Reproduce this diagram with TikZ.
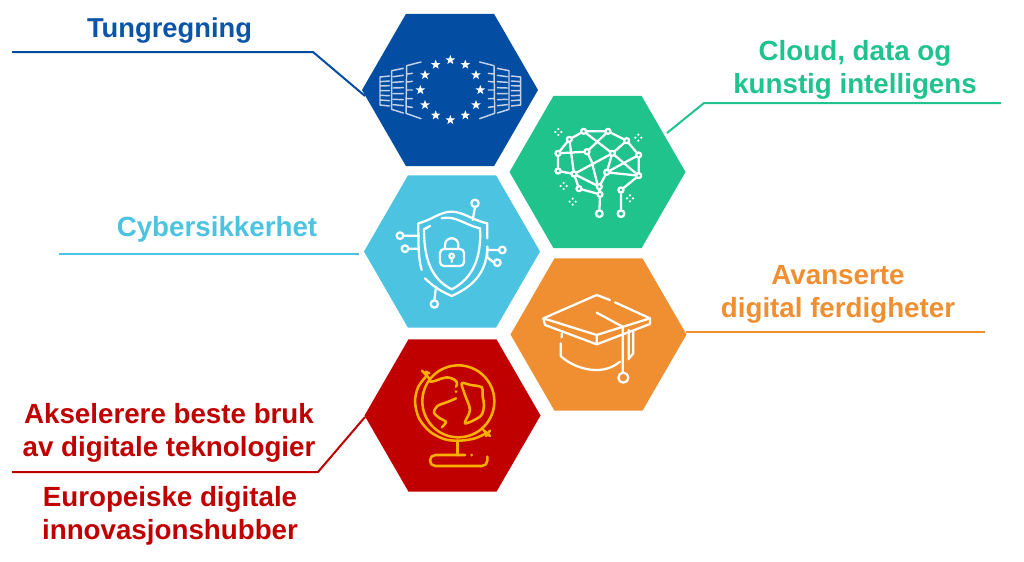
\documentclass[tikz,border=0pt]{standalone}
\usepackage{fontspec}
\setmainfont{Liberation Sans}
\usetikzlibrary{shapes.geometric}
\definecolor{cblue}{HTML}{034EA2}
\definecolor{cgreen}{HTML}{20C38B}
\definecolor{ccyan}{HTML}{4CC3E0}
\definecolor{corange}{HTML}{EF8F32}
\definecolor{cred}{HTML}{C00000}
\definecolor{cgold}{HTML}{FBB000}
\definecolor{cpale}{HTML}{C3D2E8}
\definecolor{tblue}{HTML}{0B55A8}
\tikzset{
 hexa/.style={regular polygon,regular polygon sides=6,minimum size=132pt,inner sep=0pt,fill=#1},
 link/.style={draw=#1,line width=1.5pt,line join=miter},
 lab/.style={font=\fontsize{20.8pt}{24.7pt}\selectfont\bfseries,text=#1,align=center,inner sep=0pt},
 icon/.style={white,line width=1.7pt,line cap=round,line join=round},
 zoomed/.style={x=.25pt,y=-.25pt}
}
\newcommand\eustar[2]{\fill[white] (#1,#2) +(0,-15) -- +(3.7,-5) -- +(14.3,-4.6) -- +(6,1.8) -- +(8.8,12.1) -- +(0,6) -- +(-8.8,12.1) -- +(-6,1.8) -- +(-14.3,-4.6) -- +(-3.7,-5) -- cycle;}
\newcommand\sparkle[2]{\fill[white] (#1,#2) +(0,-9) circle (3.6) +(9,0) circle (3.6) +(0,9) circle (3.6) +(-9,0) circle (3.6);}
\newcommand\parlwing{%
 \draw[cpale,line width=1.1pt,line cap=round,line join=round]
  (213,186) -- (170,197) -- (168,340) -- (213,356)
  (172,222) -- (187,220) (172,246) -- (187,244) (172,270) -- (187,270) (172,296) -- (187,296) (172,320) -- (187,322)
  (160,205) -- (125,212) -- (125,328) -- (160,339)
  (130,230) -- (160,226) (130,247) -- (160,245) (130,264) -- (160,263) (130,281) -- (160,281) (130,298) -- (160,299) (130,314) -- (160,317)
  (118,228) -- (90,231) -- (90,315) -- (118,318)
  (90,245) -- (118,243) (90,258) -- (118,257) (90,272) -- (118,272) (90,286) -- (118,287) (90,300) -- (118,302);
}
\begin{document}
\begin{tikzpicture}[x=.75pt,y=-.75pt]
\useasboundingbox (0,0) rectangle (1024,561);
\coordinate (b0) at (12,52); \coordinate (b1) at (313,52); \coordinate (b2) at (365,96);
\coordinate (g0) at (1001,103); \coordinate (g1) at (704,103); \coordinate (g2) at (667,133);
\coordinate (c0) at (59,254); \coordinate (c2) at (359,254);
\coordinate (o0) at (985,332); \coordinate (o2) at (686,332);
\coordinate (r0) at (12,472); \coordinate (r1) at (318,472); \coordinate (r2) at (365,417);
\draw[link=cblue] (b0) -- (b1) -- (b2);
\draw[link=cgreen] (g0) -- (g1) -- (g2);
\draw[link=ccyan] (c0) -- (c2);
\draw[link=corange] (o0) -- (o2);
\draw[link=cred] (r0) -- (r1) -- (r2);

\node[hexa=cblue] (hblue) at (450,90) {};
\node[hexa=cgreen] (hgreen) at (597.5,172) {};
\node[hexa=ccyan] (hcyan) at (452,251.5) {};
\node[hexa=corange] (horange) at (598.5,334.5) {};
\node[hexa=cred] (hred) at (452.5,415.5) {};

% EU icon
\begin{scope}[shift={(350,0)},zoomed]
 \foreach \x/\y in {301/180,346/194,378/225,391/270,378/315,346/346,301/360,257/346,225/315,211/270,225/225,257/194}{\eustar{\x}{\y}}
 \parlwing
 \begin{scope}[shift={(602,0)},x=-.25pt]\parlwing\end{scope}
\end{scope}

% brain icon
\begin{scope}[shift={(500,90)},zoomed,icon]
 \foreach \n/\x/\y in {a/251/124,b/324/124,c/208/148,d/380/152,e/174/190,f/261/185,g/337/190,h/416/195,i/174/243,j/222/252,k/320/247,l/416/257,m/237/296,n/298/290,o/363/300,p/300/313,q/298/371,s/363/371}{\coordinate (\n) at (\x,\y);}
 \draw (a)--(b) (a)--(c) (c)--(e) (e)--(i) (b)--(d) (d)--(h) (h)--(l) (c)--(j) (e)--(f) (a)--(g) (g)--(l) (b)--(f) (f)--(275,215)--(p) (d)--(g) (j)--(g) (k)--(h) (g)--(k) (k)--(l) (j)--(m) (m)--(p) (j)--(n) (i)--(j) (p)--(q) (o)--(s) (o)--(l) (k)--(n) (n)--(p);
 \foreach \n in {a,b,c,d,e,f,g,h,i,j,k,l,m,n,o,p}{\filldraw[fill=cgreen] (\n) circle (7.5);}
 \foreach \n in {q,s}{\filldraw[fill=cgreen] (\n) circle (10);}
 \sparkle{175}{126}\sparkle{415}{143}\sparkle{191}{288}\sparkle{218}{335}\sparkle{390}{325}
\end{scope}

% shield icon
\begin{scope}[shift={(350,170)},zoomed,icon]
 \draw (215,300) .. controls (207,270) and (205,250) .. (205,160) .. controls (245,150) and (270,125) .. (305,125) .. controls (340,125) and (365,150) .. (412,160) -- (412,205);
 \draw (225,325) .. controls (250,350) and (275,365) .. (305,378) .. controls (350,358) and (412,320) .. (412,230);
 \draw (222,178) -- (240,168);
 \draw (275,145) .. controls (315,135) and (345,165) .. (390,175) .. controls (395,260) and (370,325) .. (305,358) .. controls (240,325) and (222,260) .. (222,178);
 \draw[rounded corners=3] (270,237) rectangle (342,288);
 \draw (285,237) -- (285,225) .. controls (285,198) and (325,198) .. (325,225) -- (325,237);
 \draw (305,258) circle (7) (305,265) -- (305,276);
 \draw (375,111) -- (368,150) (160,197) -- (205,197) (175,236) -- (205,236) (447,240) -- (412,240) (432,278) -- (412,262) -- (412,230) (253,391) -- (258,350);
 \draw (375,100) circle (11) (150,197) circle (10) (165,236) circle (10) (457,240) circle (10) (442,278) circle (10) (253,402) circle (11);
\end{scope}

% graduation cap
\begin{scope}[shift={(500,250)},zoomed,icon]
 \draw (330,150) -- (290,135) -- (130,205) -- (290,255) -- (450,205) -- (345,157);
 \draw (130,205) -- (135,225) -- (290,283) -- (450,222) -- (450,205) (290,255) -- (290,283);
 \draw (185,250) -- (185,262) (182,280) -- (182,318) .. controls (215,350) and (300,385) .. (360,335) (400,243) -- (400,310) -- (385,328);
 \draw (290,188) -- (368,230) -- (368,368) (386,240) -- (386,325);
 \draw (370,383) circle (15);
\end{scope}

% globe
\begin{scope}[shift={(350,330)},zoomed,cgold,line width=1.9pt,line cap=round,line join=round]
 \draw (325,214) circle (108);
 \draw plot[smooth] coordinates {(232,135) (205,170) (195,215) (207,265) (240,305) (285,328) (330,332) (375,325) (412,308)};
 \draw (216,122) -- (240,148) (228,125) -- (238,130) (400,300) -- (420,318) (408,318) -- (420,302);
 \draw (322,332) -- (322,375);
 \draw[rounded corners=4] (345,375) -- (240,375) -- (240,408) -- (412,408) -- (412,380);
 \fill (365,375) circle (4.5) (318,185) circle (4.5);
 \draw (240,155) .. controls (265,155) and (280,135) .. (305,145) .. controls (320,150) and (325,160) .. (318,170);
 \draw plot[smooth] coordinates {(318,205) (295,215) (262,228) (252,248) (270,265) (288,276) (275,292)};
 \draw plot[smooth cycle] coordinates {(335,160) (362,165) (395,172) (398,200) (402,225) (392,258) (345,280) (360,240) (345,195)};
\end{scope}

\node[lab=tblue,font=\fontsize{20.5pt}{24.7pt}\selectfont\bfseries] (t1) at (169.5,30) {Tungregning};
\node[lab=cgreen] (t2) at (855,70) {Cloud, data og\\kunstig intelligens};
\node[lab=ccyan] (t3) at (217,229.5) {Cybersikkerhet};
\node[lab=corange] (t4) at (838,294) {Avanserte\\digital ferdigheter};
\node[lab=cred] (t5) at (169,433) {Akselerere beste bruk\\av digitale teknologier};
\node[lab=cred] (t6) at (170,515.5) {Europeiske digitale\\innovasjonshubber};
\end{tikzpicture}
\end{document}
